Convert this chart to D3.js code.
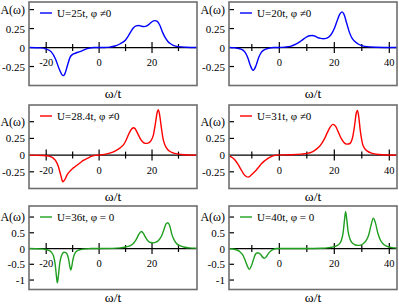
<!DOCTYPE html>
<html>
<head>
<meta charset="utf-8">
<script src="https://cdn.jsdelivr.net/npm/d3@7"></script>
<style>
  body { margin: 0; background: #fff; }
  svg { display: block; font-family: "Liberation Serif", "DejaVu Serif", serif; }
</style>
</head>
<body>
<div class="viewport"></div>
<script>
// spectral functions: omega/t and A(omega)
var w25 = [-26.5,-22,-20,-18,-16.5,-15,-14,-13.5,-13,-12,-11,-10,-9,-8,-7,-6,-5,-4,-3,-2,
    2,4,6,8,10,11,12,13,14,15,16,17,18,19,20,21,22,23,24,25,26,27,28,30,33,37];
var a25 = [0,-0.005,-0.02,-0.06,-0.15,-0.29,-0.36,-0.37,-0.35,-0.24,-0.13,-0.09,-0.075,-0.062,-0.05,-0.035,-0.02,-0.01,-0.004,0,
    0,0.005,0.02,0.05,0.1,0.15,0.21,0.26,0.285,0.29,0.28,0.275,0.285,0.31,0.34,0.355,0.345,0.29,0.2,0.13,0.08,0.05,0.03,0.012,0.004,0];

var w20 = [-18.3,-16,-14,-12.5,-11.5,-10.5,-9.5,-8.5,-7.5,-6.5,-5.5,-4,-2,
    0,2,4,6,8,10,11,12,13,14,15,16,17,18,19,20,21,22,22.8,23.5,24.5,25.5,26.5,27.5,29,31,35,42.8];
var a20 = [0,-0.005,-0.02,-0.06,-0.13,-0.24,-0.30,-0.24,-0.13,-0.06,-0.03,-0.01,0,
    0,0.005,0.015,0.045,0.09,0.14,0.155,0.158,0.15,0.13,0.12,0.115,0.12,0.14,0.18,0.25,0.35,0.44,0.47,0.44,0.32,0.2,0.12,0.08,0.04,0.015,0.003,0];

var w284 = [-26.5,-21,-19,-17.5,-16.5,-15.5,-14.5,-13.7,-13,-12,-11,-10,-9,-8,-7,-6,-5,-4,-3,-1.5,0,
    2,4,6,8,9.5,10.5,11.5,12.5,13,13.5,14.5,15.5,16.5,17.5,18.5,19.5,20.5,21.3,22,22.4,22.8,23.5,24.2,25,26,27,28.5,31,37];
var a284 = [0,-0.005,-0.015,-0.04,-0.08,-0.16,-0.30,-0.40,-0.37,-0.29,-0.24,-0.20,-0.17,-0.14,-0.11,-0.08,-0.06,-0.04,-0.02,-0.005,0,
    0.01,0.03,0.06,0.11,0.17,0.25,0.34,0.40,0.41,0.40,0.33,0.25,0.195,0.175,0.18,0.21,0.30,0.48,0.65,0.68,0.62,0.42,0.24,0.14,0.08,0.05,0.025,0.01,0];

var w31 = [-18.3,-17,-16,-15,-14,-13,-12,-11.3,-10.5,-9.5,-8.5,-7.5,-6.5,-5.5,-4.5,-3.5,-2.5,-1,
    4,8,10,12,13.5,15,16.5,17.5,18.5,19.5,20.5,21.5,22.5,23.5,24.5,25.5,26.5,27.3,28,28.4,28.8,29.5,30.2,31,32,33.5,36,40,42.8];
var a31 = [-0.01,-0.04,-0.08,-0.14,-0.21,-0.28,-0.32,-0.33,-0.31,-0.27,-0.23,-0.18,-0.13,-0.09,-0.06,-0.035,-0.015,0,
    0.005,0.015,0.025,0.05,0.09,0.15,0.25,0.34,0.42,0.46,0.43,0.34,0.25,0.19,0.165,0.17,0.24,0.42,0.63,0.67,0.60,0.35,0.18,0.1,0.06,0.03,0.01,0.002,0];

var w36 = [-26.5,-22,-20,-19,-18,-17.2,-16.6,-16.1,-15.8,-15.5,-15,-14.5,-14,-13.3,-12.6,-12,-11.5,-11,-10.7,-10.4,-10,-9.5,-9,-8,-7,-5,-3,
    0,5,8,10,12,13,14,15,16,16.8,17.5,18.5,19.5,20.5,21.5,22.5,23.5,24.5,25.3,26,26.7,27.5,28.5,29.5,30.5,32,34,37];
var a36 = [0,-0.01,-0.03,-0.06,-0.12,-0.25,-0.5,-0.9,-1.09,-0.95,-0.55,-0.3,-0.18,-0.12,-0.13,-0.2,-0.35,-0.6,-0.68,-0.6,-0.4,-0.22,-0.13,-0.06,-0.035,-0.01,0,
    0,0.005,0.02,0.05,0.1,0.17,0.28,0.45,0.54,0.47,0.36,0.24,0.19,0.18,0.2,0.26,0.38,0.6,0.78,0.82,0.72,0.45,0.25,0.14,0.09,0.05,0.02,0.01];

var w40 = [-18.3,-16,-14.5,-13.3,-12.3,-11.5,-10.9,-10.3,-9.5,-8.8,-8.2,-7.5,-6.7,-6,-5.4,-4.8,-4,-3,-2,-1,
    0,10,15,18,20,21.5,22.5,23.2,23.7,24.1,24.5,25,25.7,26.5,27.5,28.5,29.5,30.5,31.5,32.5,33.3,34.2,35,35.8,36.7,37.7,39,41,42.8];
var a40 = [-0.005,-0.03,-0.09,-0.2,-0.4,-0.58,-0.66,-0.58,-0.38,-0.2,-0.14,-0.14,-0.2,-0.28,-0.31,-0.27,-0.16,-0.07,-0.02,0,
    0,0.002,0.01,0.03,0.06,0.12,0.25,0.5,0.9,1.17,0.95,0.55,0.3,0.18,0.12,0.1,0.11,0.15,0.24,0.43,0.72,0.96,0.8,0.5,0.28,0.15,0.08,0.03,0.015];

var labels = ["U=25t, \u03c6 \u22600", "U=20t, \u03c6 \u22600", "U=28.4t, \u03c6 \u22600",
              "U=31t, \u03c6 \u22600", "U=36t, \u03c6 = 0", "U=40t, \u03c6 = 0"];
var colors = ["#0000ff", "#0000ff", "#ff0000", "#ff0000", "#1f9f1f", "#1f9f1f"];

var xTicksLeft = [-20, -10, 0, 10, 20, 30];
var xTicksRight = [-10, 0, 10, 20, 30, 40];
var yTicksSmall = [-0.25, 0, 0.25, 0.5];
var yTicksLarge = [-1, -0.5, 0, 0.5, 1];

function letsGo() {

    var width = 399, height = 305;

    var svg = d3.select(".viewport").append("svg")
        .attr("width", width)
        .attr("height", height);

    var colX = [29, 229], panelW = 168;
    var rowY = [2, 105, 206], panelH = 83.5;

    var xDomains = [[-26.5, 37], [-18.3, 42.8]];
    var yDomains = [[-0.5, 0.6], [-0.5, 0.75], [-1.3, 1.35]];
    var xTicks = [xTicksLeft, xTicksRight];
    var yTicks = [yTicksSmall, yTicksSmall, yTicksLarge];

    var series = [[w25, a25], [w20, a20], [w284, a284], [w31, a31], [w36, a36], [w40, a40]];

    series.forEach(function (s, i) {
        var col = i % 2, row = Math.floor(i / 2);
        drawPanel(i, s[0], s[1], col, row);
    });

    function drawPanel(i, w, a, col, row) {

        var g = svg.append("g")
            .attr("transform", "translate(" + colX[col] + "," + rowY[row] + ")");

        var x = d3.scaleLinear().domain(xDomains[col]).range([0, panelW]);
        var y = d3.scaleLinear().domain(yDomains[row]).range([panelH, 0]);

        g.append("clipPath").attr("id", "clip" + i)
            .append("rect").attr("width", panelW).attr("height", panelH);

        var y0 = y(0);

        // zero line across the panel
        g.append("line")
            .attr("x1", 0).attr("x2", panelW)
            .attr("y1", y0).attr("y2", y0)
            .attr("stroke", "#000").attr("stroke-width", 1.3);

        // x ticks sit on the zero line, labels only every 20
        xTicks[col].forEach(function (d) {
            var major = d % 20 === 0, len = major ? 5.5 : 3.5;
            g.append("line")
                .attr("x1", x(d)).attr("x2", x(d))
                .attr("y1", y0 - len).attr("y2", y0 + len)
                .attr("stroke", "#000").attr("stroke-width", 1.2);
            if (major) {
                g.append("text")
                    .attr("x", x(d)).attr("y", y0 + 18.5)
                    .attr("text-anchor", "middle")
                    .attr("font-size", 10.5)
                    .text(d);
            }
        });

        // y ticks, the top one is labelled A(w)
        var yt = yTicks[row];
        yt.forEach(function (d, k) {
            if (d !== 0) {
                g.append("line")
                    .attr("x1", 0).attr("x2", 5)
                    .attr("y1", y(d)).attr("y2", y(d))
                    .attr("stroke", "#000").attr("stroke-width", 1.2);
            }
            g.append("text")
                .attr("x", -4).attr("y", y(d) + 4)
                .attr("text-anchor", "end")
                .attr("font-size", k === yt.length - 1 ? 12 : 11)
                .text(k === yt.length - 1 ? "A(\u03c9)" : d);
        });

        var line = d3.line()
            .x(function (d, k) { return x(w[k]); })
            .y(function (d) { return y(d); })
            .curve(d3.curveMonotoneX);

        g.append("path")
            .datum(a)
            .attr("clip-path", "url(#clip" + i + ")")
            .attr("fill", "none")
            .attr("stroke", colors[i])
            .attr("stroke-width", 1.4)
            .attr("d", line);

        // legend
        g.append("line")
            .attr("x1", 11).attr("x2", 23)
            .attr("y1", 11).attr("y2", 11)
            .attr("stroke", colors[i]).attr("stroke-width", 1.4);
        g.append("text")
            .attr("x", 28).attr("y", 15)
            .attr("font-size", 11)
            .text(labels[i]);

        // frame
        g.append("rect")
            .attr("width", panelW).attr("height", panelH)
            .attr("fill", "none")
            .attr("stroke", "#6e6e6e").attr("stroke-width", 1.6);

        g.append("text")
            .attr("x", panelW / 2).attr("y", panelH + 12)
            .attr("text-anchor", "middle")
            .attr("font-size", 13.5)
            .text("\u03c9/t");
    }
}

letsGo();
</script>
</body>
</html>
